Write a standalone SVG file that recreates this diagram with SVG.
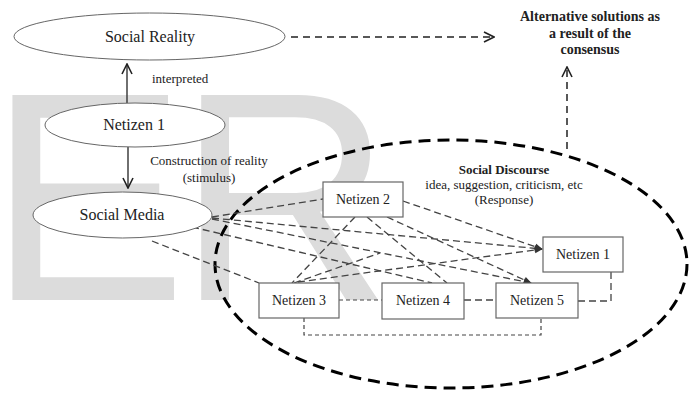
<svg xmlns="http://www.w3.org/2000/svg" width="696" height="393" viewBox="0 0 696 393">
<defs>
<style>
.wm{font-family:"Liberation Sans",Arial,sans-serif;font-size:298px;fill:#dcdcdc}
.t{font-family:"Liberation Serif","Times New Roman",serif;fill:#222}
.lbl{font-size:13px}
.nt{font-size:16px;text-anchor:middle}
.bt{font-size:14px;text-anchor:middle}
.b{font-weight:bold}
.ell{fill:#fff;stroke:#666;stroke-width:1}
.box{fill:#fff;stroke:#666;stroke-width:1.2}
.solid{stroke:#333;stroke-width:1.4;fill:none}
.dl{stroke:#444;stroke-width:1.3;fill:none;stroke-dasharray:7,4}
.ds{stroke:#444;stroke-width:1.2;fill:none;stroke-dasharray:4,3}
.big{stroke:#000;stroke-width:3;fill:none;stroke-dasharray:12,7}
.top{stroke:#222;stroke-width:1.5;fill:none;stroke-dasharray:7,5}
</style>
<marker id="v" viewBox="0 0 12 12" refX="11" refY="6" markerWidth="12" markerHeight="12" markerUnits="userSpaceOnUse" orient="auto">
<path d="M1,1 L11,6 L1,11" fill="none" stroke="#222" stroke-width="1.6"/>
</marker>
<marker id="f" viewBox="0 0 10 10" refX="9" refY="5" markerWidth="9" markerHeight="8" markerUnits="userSpaceOnUse" orient="auto">
<path d="M0,1 L10,5 L0,9 Z" fill="#333"/>
</marker>
</defs>
<rect width="696" height="393" fill="#fff"/>
<g id="watermark">
<text class="wm" x="-12" y="300">E<tspan dx="-10">R</tspan></text>
</g>
<g id="connectors">
<line class="solid" x1="127" y1="103" x2="127" y2="64" marker-end="url(#v)"/>
<line class="solid" x1="128" y1="147" x2="128" y2="188" marker-end="url(#v)"/>
<line class="top" x1="291" y1="37" x2="494" y2="37" marker-end="url(#v)"/>
<line class="top" x1="567" y1="149" x2="567" y2="67" marker-end="url(#v)"/>
<ellipse class="big" cx="451" cy="264" rx="236" ry="124"/>
<line class="dl" x1="212" y1="217" x2="323" y2="199"/>
<line class="dl" x1="212" y1="218" x2="542" y2="249" marker-end="url(#f)"/>
<line class="dl" x1="212" y1="219" x2="531" y2="283" marker-end="url(#f)"/>
<line class="dl" x1="192" y1="227" x2="432" y2="283"/>
<line class="dl" x1="152" y1="241" x2="259" y2="283"/>
<line class="dl" x1="403" y1="201" x2="542" y2="249" marker-end="url(#f)"/>
<line class="dl" x1="355" y1="217" x2="292" y2="283"/>
<line class="dl" x1="367" y1="217" x2="447" y2="283"/>
<line class="dl" x1="387" y1="217" x2="531" y2="283" marker-end="url(#f)"/>
<line class="dl" x1="298" y1="282" x2="542" y2="249" marker-end="url(#f)"/>
<line class="dl" x1="294" y1="283" x2="380" y2="253"/>
<line class="ds" x1="339" y1="300" x2="382" y2="300"/>
<line class="dl" x1="464" y1="300" x2="496" y2="300"/>
<polyline class="dl" points="578,301 611,301 611,272"/>
<polyline class="ds" points="304,318 304,335 541,335 541,318"/>
</g>
<g id="social-reality">
<ellipse class="ell" cx="149.5" cy="36.5" rx="135.5" ry="23.5"/>
<text class="t nt" x="150" y="42">Social Reality</text>
</g>
<g id="netizen1-ellipse">
<ellipse class="ell" cx="135" cy="125" rx="90" ry="22"/>
<text class="t nt" x="134" y="130">Netizen 1</text>
</g>
<g id="social-media">
<ellipse class="ell" cx="122.5" cy="215" rx="89.5" ry="23"/>
<text class="t nt" x="122" y="220">Social Media</text>
</g>
<g id="labels">
<text class="t lbl" x="152" y="83">interpreted</text>
<text class="t lbl" x="209" y="165" text-anchor="middle">Construction of reality</text>
<text class="t lbl" x="209" y="182" text-anchor="middle">(stimulus)</text>
<text class="t b" font-size="14" x="590" y="21" text-anchor="middle">Alternative solutions as</text>
<text class="t b" font-size="14" x="590" y="38" text-anchor="middle">a result of the</text>
<text class="t b" font-size="14" x="590" y="54" text-anchor="middle">consensus</text>
<text class="t b lbl" x="504" y="174" text-anchor="middle">Social Discourse</text>
<text class="t lbl" x="504" y="189" text-anchor="middle">idea, suggestion, criticism, etc</text>
<text class="t lbl" x="504" y="204" text-anchor="middle">(Response)</text>
</g>
<g id="netizen2">
<rect class="box" x="323" y="182" width="80" height="35"/>
<text class="t bt" x="363" y="204">Netizen 2</text>
</g>
<g id="netizen1-box">
<rect class="box" x="543" y="237" width="80" height="35"/>
<text class="t bt" x="583" y="259">Netizen 1</text>
</g>
<g id="netizen3">
<rect class="box" x="259" y="283" width="80" height="35"/>
<text class="t bt" x="299" y="305">Netizen 3</text>
</g>
<g id="netizen4">
<rect class="box" x="382" y="283" width="82" height="36"/>
<text class="t bt" x="423" y="305">Netizen 4</text>
</g>
<g id="netizen5">
<rect class="box" x="496" y="283" width="82" height="35"/>
<text class="t bt" x="537" y="305">Netizen 5</text>
</g>
</svg>
